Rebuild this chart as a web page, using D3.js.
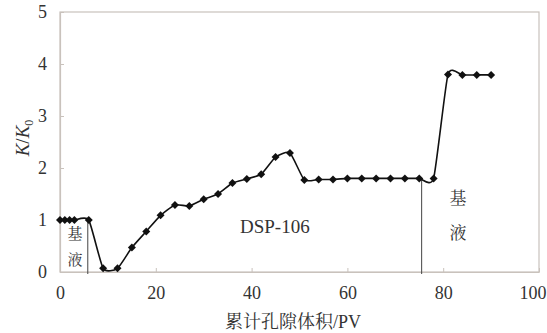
<!DOCTYPE html>
<html>
<head>
<meta charset="utf-8">
<script src="https://cdn.jsdelivr.net/npm/d3@7"></script>
<style>
  body { margin: 0; background: #fff; }
  svg text { font-family: "Liberation Serif", "Times New Roman", "DejaVu Serif", serif; fill: #333; }
</style>
</head>
<body>
<svg width="547" height="333"></svg>
<script>
// datos
const pv = [0, 1, 2, 3, 6, 9, 12, 15, 18, 21, 24, 27, 30, 33, 36, 39, 42, 45, 48, 51, 54, 57, 60, 63, 66, 69, 72, 75, 78, 81, 84, 87, 90];
const kk0 = [1, 1, 1, 1, 1, 0.07, 0.07, 0.47, 0.78, 1.09, 1.29, 1.27, 1.40, 1.50, 1.71, 1.79, 1.88, 2.21, 2.29, 1.77, 1.78, 1.78, 1.8, 1.8, 1.8, 1.8, 1.8, 1.8, 1.8, 3.8, 3.79, 3.79, 3.79];
const xTicks = [0, 20, 40, 60, 80, 100];
const yTicks = [0, 1, 2, 3, 4, 5];
const switchLines = [5.8, 75.5]; // cambio de fluido (x)

const margin = { top: 12, right: 8, bottom: 61, left: 60 };
const width = 547, height = 333;
const svg = d3.select('svg');
const serif = '"Liberation Serif", "Times New Roman", "DejaVu Serif", serif';

const x = d3.scaleLinear().domain([0, 100]).range([margin.left, width - margin.right]);
const y = d3.scaleLinear().domain([0, 5]).range([height - margin.bottom, margin.top]);

// recuadro
svg.append('rect')
    .attr('x', x(0)).attr('y', y(5))
    .attr('width', x(100) - x(0)).attr('height', y(0) - y(5))
    .attr('fill', 'none').attr('stroke', '#c9c2bc').attr('stroke-width', 1.2);

// ejes con ticks hacia dentro
const xAxis = svg.append('g')
    .attr('transform', `translate(0,${y(0)})`)
    .call(d3.axisBottom(x).tickValues(xTicks).tickFormat(d3.format('d'))
        .tickSizeInner(-4).tickSizeOuter(0).tickPadding(14));
const yAxis = svg.append('g')
    .attr('transform', `translate(${x(0)},0)`)
    .call(d3.axisLeft(y).tickValues(yTicks).tickFormat(d3.format('d'))
        .tickSizeInner(-4).tickSizeOuter(0).tickPadding(13));
[xAxis, yAxis].forEach(a => {
    a.attr('font-family', null);
    a.select('.domain').attr('stroke', '#c9c2bc').attr('stroke-width', 1.2);
    a.selectAll('.tick line').attr('stroke', '#c9c2bc');
    a.selectAll('.tick text').attr('font-size', 18).attr('fill', '#333')
        .style('font-family', serif);
});
// el "100" queda pegado al borde derecho
xAxis.selectAll('.tick text').filter(d => d === 100)
    .attr('text-anchor', 'end').attr('x', width - 1 - x(100));

// lineas verticales de cambio
svg.append('g').selectAll('line')
    .data(switchLines)
    .enter().append('line')
    .attr('x1', d => x(d)).attr('x2', d => x(d))
    .attr('y1', (d, i) => y(i === 0 ? 1 : 1.8))
    .attr('y2', y(0) + 2)
    .attr('stroke', '#444').attr('stroke-width', 1);

// serie
const points = pv.map((v, i) => [v, kk0[i]]);
svg.append('path')
    .datum(points)
    .attr('fill', 'none')
    .attr('stroke', '#111')
    .attr('stroke-width', 1.6)
    .attr('d', d3.line().x(d => x(d[0])).y(d => y(d[1])).curve(d3.curveCardinal.tension(0.45)));

svg.append('g').selectAll('path')
    .data(points)
    .enter().append('path')
    .attr('d', d3.symbol(d3.symbolSquare, 32))
    .attr('transform', d => `translate(${x(d[0])},${y(d[1])}) rotate(45)`)
    .attr('fill', '#111');

// textos
svg.append('text')
    .attr('x', 240).attr('y', 233)
    .attr('font-size', 19)
    .style('font-family', serif)
    .text('DSP-106');

const cjk = '"Noto Serif CJK SC", "Noto Sans CJK SC", sans-serif';
svg.append('text').attr('x', 75).attr('y', 239).attr('text-anchor', 'middle')
    .attr('font-size', 15).style('font-family', cjk).text('基');
svg.append('text').attr('x', 75).attr('y', 265).attr('text-anchor', 'middle')
    .attr('font-size', 15).style('font-family', cjk).text('液');
svg.append('text').attr('x', 458).attr('y', 204).attr('text-anchor', 'middle')
    .attr('font-size', 17).style('font-family', cjk).text('基');
svg.append('text').attr('x', 458).attr('y', 239).attr('text-anchor', 'middle')
    .attr('font-size', 17).style('font-family', cjk).text('液');

// titulos de ejes
svg.append('text')
    .attr('x', 293).attr('y', 328)
    .attr('text-anchor', 'middle')
    .attr('font-size', 18)
    .style('font-family', '"Liberation Serif", "Noto Serif CJK SC", "Noto Sans CJK SC", serif')
    .text('累计孔隙体积/PV');

const yl = svg.append('text')
    .attr('transform', 'translate(29,138) rotate(-90)')
    .attr('text-anchor', 'middle')
    .attr('font-size', 19)
    .style('font-family', serif);
yl.append('tspan').style('font-style', 'italic').text('K');
yl.append('tspan').text('/');
yl.append('tspan').style('font-style', 'italic').text('K');
yl.append('tspan').attr('font-size', 12).attr('dy', 4).text('0');
</script>
</body>
</html>
